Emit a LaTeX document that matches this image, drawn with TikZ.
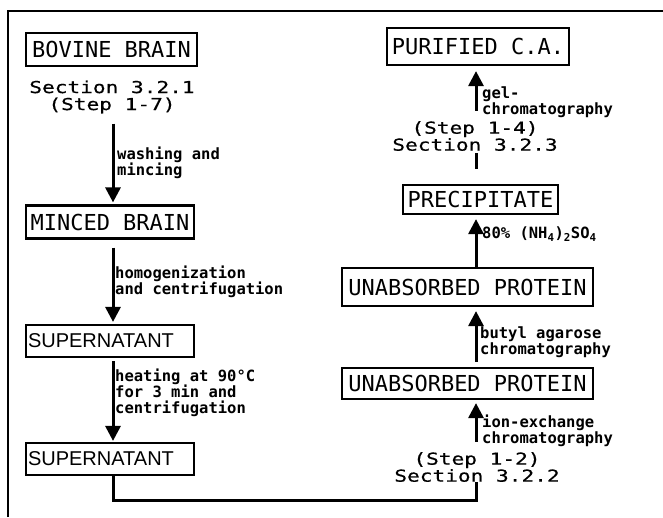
\documentclass[tikz,border=0pt]{standalone}
\usepackage{fontspec}
\usetikzlibrary{arrows.meta}
\newfontfamily\boxfont{DejaVu Sans Mono}
\newfontfamily\secfont[FakeStretch=1.28,FakeBold=0.5]{DejaVu Sans Mono}
\newfontfamily\arialfont{Liberation Sans}
\begin{document}
\begin{tikzpicture}[x=1pt,y=-1pt,
  boxnode/.style={draw, line width=2.2pt, inner sep=0pt, font=\boxfont\fontsize{22}{22}\selectfont},
  supbox/.style={draw, line width=2.2pt, inner ysep=0pt, inner xsep=2pt, text width=164pt, align=left, minimum height=32pt, font=\arialfont\fontsize{20}{20}\selectfont},
  sectext/.style={inner sep=0pt, align=center, font=\secfont\fontsize{16.5}{17}\selectfont},
  lbl/.style={inner sep=0pt, anchor=west, align=left, font=\boxfont\bfseries\fontsize{15.5}{16}\selectfont},
  arr/.style={line width=3pt, -{Triangle[width=15pt,length=15pt]}},
  conn/.style={line width=3pt}
]
\fill[white] (0,0) rectangle (663,517);
\useasboundingbox (0,0) rectangle (663,517);
\draw[line width=1.8pt] (8,517) -- (8,11) -- (663,11);

\coordinate (lx) at (113,0);
\coordinate (rx) at (476,0);
\coordinate (bend) at (0,500);

% left column
\node[boxnode, minimum width=171pt, minimum height=33pt] (bovine) at (111.5,49.5) {BOVINE BRAIN};
\node[sectext] (sec1) at (112,97) {Section 3.2.1\\(Step 1-7)};
\node[boxnode, minimum width=168pt, minimum height=33pt] (minced) at (110,222) {MINCED BRAIN};
\node[supbox] (sup1) at (110,341) {SUPERNATANT};
\node[supbox] (sup2) at (110,459) {SUPERNATANT};

\node[lbl] (l1) at (117,163) {washing and\\mincing};
\node[lbl] (l2) at (115,282) {homogenization\\and centrifugation};
\node[lbl] (l3) at (115,393) {heating at 90°C\\for 3 min and\\centrifugation};

\draw[arr] ([yshift=-10pt]sec1.south -| lx) -- ([yshift=2pt]minced.north -| lx);
\draw[arr] ([yshift=-8pt]minced.south -| lx) -- ([yshift=2pt]sup1.north -| lx);
\draw[arr] ([yshift=-3pt]sup1.south -| lx) -- ([yshift=1pt]sup2.north -| lx);

% right column
\node[boxnode, minimum width=182pt, minimum height=37pt] (purified) at (478,46.5) {PURIFIED C.A.};
\node[sectext] (sec3) at (475,136) {(Step 1-4)\\Section 3.2.3};
\node[boxnode, minimum width=155pt, minimum height=29pt] (precip) at (480.5,199.5) {PRECIPITATE};
\node[boxnode, minimum width=251pt, minimum height=38pt] (unabs2) at (467.5,287) {UNABSORBED PROTEIN};
\node[boxnode, minimum width=251pt, minimum height=31pt] (unabs1) at (467.5,383.5) {UNABSORBED PROTEIN};
\node[sectext] (sec2) at (477,467) {(Step 1-2)\\Section 3.2.2};

\node[lbl] (l4) at (482,102) {gel-\\chromatography};
\node[lbl] (l5) at (482,234) {80\% (NH\textsubscript{4})\textsubscript{2}SO\textsubscript{4}};
\node[lbl] (l6) at (480,342) {butyl agarose\\chromatography};
\node[lbl] (l7) at (482,431) {ion-exchange\\chromatography};

\draw[conn] (sup2.south -| lx) -- (bend -| lx) -- (bend -| rx) -- (sec2.south -| rx);
\draw[arr] ([yshift=10pt]sec2.north -| rx) -- ([yshift=-3pt]unabs1.south -| rx);
\draw[arr] ([yshift=5pt]unabs1.north -| rx) -- ([yshift=-4pt]unabs2.south -| rx);
\draw[arr] (unabs2.north -| rx) -- ([yshift=-4pt]precip.south -| rx);
\draw[conn] ([yshift=15pt]precip.north -| rx) -- ([yshift=-2pt]sec3.south -| rx);
\draw[arr] ([yshift=10pt]sec3.north -| rx) -- ([yshift=-5pt]purified.south -| rx);
\end{tikzpicture}
\end{document}
